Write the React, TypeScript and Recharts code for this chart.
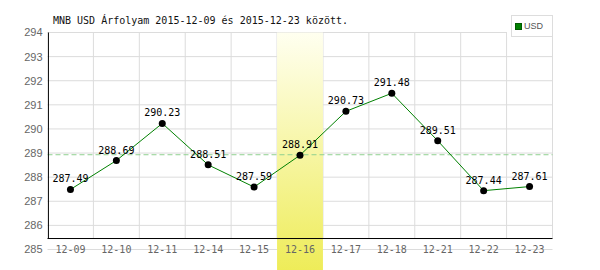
import React from 'react';
import {
  LineChart,
  Line,
  XAxis,
  YAxis,
  CartesianGrid,
  ReferenceLine,
  ReferenceArea,
  LabelList,
  Legend,
} from 'recharts';

const TITLE = 'MNB USD Árfolyam 2015-12-09 és 2015-12-23 között.';
const SERIES_NAME = 'USD';
const CATEGORIES = ['12-09', '12-10', '12-11', '12-14', '12-15', '12-16', '12-17', '12-18', '12-21', '12-22', '12-23'];
const USD_VALUES = [287.49, 288.69, 290.23, 288.51, 287.59, 288.91, 290.73, 291.48, 289.51, 287.44, 287.61];
const Y_TICKS = [285, 286, 287, 288, 289, 290, 291, 292, 293, 294];
const AVERAGE = 288.93;
const HIGHLIGHT = '12-16';
const AXIS_FLOOR = 285.455;
const BAND_BOTTOM = 284.1;

const data = CATEGORIES.map((c, i) => ({ i, label: c, value: USD_VALUES[i] }));
const X_TICKS = CATEGORIES.map((_, i) => i);
const hiIdx = CATEGORIES.indexOf(HIGHLIGHT);
const BOUNDARIES = CATEGORIES.map((_, i) => i + 0.5);

const MONO = '"DejaVu Sans Mono", monospace';
const GRID = '#dcdcdc';

const XTick = (props: any) => {
  const { x, y, payload } = props;
  return (
    <text x={x} y={y + 3.2} textAnchor="middle" fontFamily={MONO} fontSize={10} fill="#666">
      {CATEGORIES[payload.value]}
    </text>
  );
};

const LegendBox = () => (
  <div style={{ width: 46, height: 22, background: '#fff', position: 'relative' }}>
    <div
      style={{
        position: 'absolute',
        left: 4,
        top: 0,
        width: 42,
        height: 22,
        boxSizing: 'border-box',
        border: '1px solid #ddd',
        background: '#fff',
      }}
    >
      <div
        style={{
          position: 'absolute',
          left: 3,
          top: 7,
          width: 7,
          height: 7,
          boxSizing: 'border-box',
          background: '#008000',
          border: '1px solid #005a00',
        }}
      />
      <div
        style={{
          position: 'absolute',
          left: 12,
          top: 5,
          fontFamily: '"Liberation Sans Narrow", "Liberation Sans", sans-serif',
          fontSize: 9,
          lineHeight: '11px',
          color: '#555',
        }}
      >
        {SERIES_NAME}
      </div>
    </div>
  </div>
);

export default function App() {
  return (
    <div style={{ position: 'absolute', left: 0, top: 0, width: 600, height: 270, background: '#fff' }}>
      <LineChart
        width={600}
        height={270}
        data={data}
        margin={{ top: 32.5, right: 47.5, bottom: 0, left: 0 }}
      >
        <defs>
          <linearGradient id="bandGrad" x1="0" y1="0" x2="0" y2="1">
            <stop offset="0%" stopColor="#fffff0" />
            <stop offset="100%" stopColor="#eeec58" />
          </linearGradient>
        </defs>
        <CartesianGrid vertical={false} stroke={GRID} horizontalValues={Y_TICKS} zIndex={-100} />
        {BOUNDARIES.map((b) => (
          <ReferenceLine
            key={'v' + b}
            segment={[{ x: b, y: AXIS_FLOOR }, { x: b, y: 294 }]}
            stroke={GRID}
            zIndex={-100}
            ifOverflow="visible"
          />
        ))}
        <ReferenceArea
          x1={hiIdx - 0.5}
          x2={hiIdx + 0.5}
          y1={BAND_BOTTOM}
          y2={294}
          fill="url(#bandGrad)"
          fillOpacity={1}
          stroke="none"
          ifOverflow="visible"
          zIndex={-50}
        />
        <XAxis
          dataKey="i"
          type="number"
          domain={[-0.5, 10.5]}
          ticks={X_TICKS}
          allowDataOverflow
          axisLine={false}
          tickLine={false}
          tickSize={0}
          tickMargin={0}
          height={20.5}
          interval={0}
          tick={<XTick />}
        />
        <YAxis
          domain={[285, 294]}
          ticks={Y_TICKS}
          allowDataOverflow
          axisLine={false}
          tickLine={false}
          tickSize={0}
          tickMargin={5}
          width={47.5}
          interval={0}
          tick={{ fill: '#666', fontSize: 11, fontFamily: '"Liberation Sans", Arial, sans-serif' }}
        />
        <ReferenceLine
          segment={[{ x: -0.5, y: AXIS_FLOOR }, { x: 10.5, y: AXIS_FLOOR }]}
          stroke="#000"
          strokeWidth={1}
          zIndex={500}
          ifOverflow="visible"
        />
        <ReferenceLine
          segment={[{ x: -0.48, y: AXIS_FLOOR }, { x: -0.48, y: 294 }]}
          stroke="#000"
          strokeWidth={1}
          zIndex={500}
          ifOverflow="visible"
        />
        <ReferenceLine y={AVERAGE} stroke="#8fd08f" strokeDasharray="5 3" zIndex={300} />
        <Legend
          layout="horizontal"
          verticalAlign="middle"
          align="center"
          wrapperStyle={{ position: 'absolute', left: 507, top: 15, width: 46, height: 22, margin: 0, padding: 0 }}
          content={() => <LegendBox />}
        />
        <Line
          dataKey="value"
          name={SERIES_NAME}
          stroke="#008000"
          strokeWidth={1}
          dot={{ r: 3.5, fill: '#000', stroke: 'none' }}
          activeDot={false}
          isAnimationActive={false}
        >
          <LabelList
            dataKey="value"
            position="top"
            offset={7}
            style={{ fontFamily: MONO, fontSize: 10, fill: '#000' }}
          />
        </Line>
      </LineChart>
      <svg
        width={600}
        height={40}
        style={{ position: 'absolute', left: 0, top: 0, pointerEvents: 'none' }}
      >
        <text x={53} y={24} fontFamily={MONO} fontSize={10} fill="#111">
          {TITLE}
        </text>
      </svg>
    </div>
  );
}
